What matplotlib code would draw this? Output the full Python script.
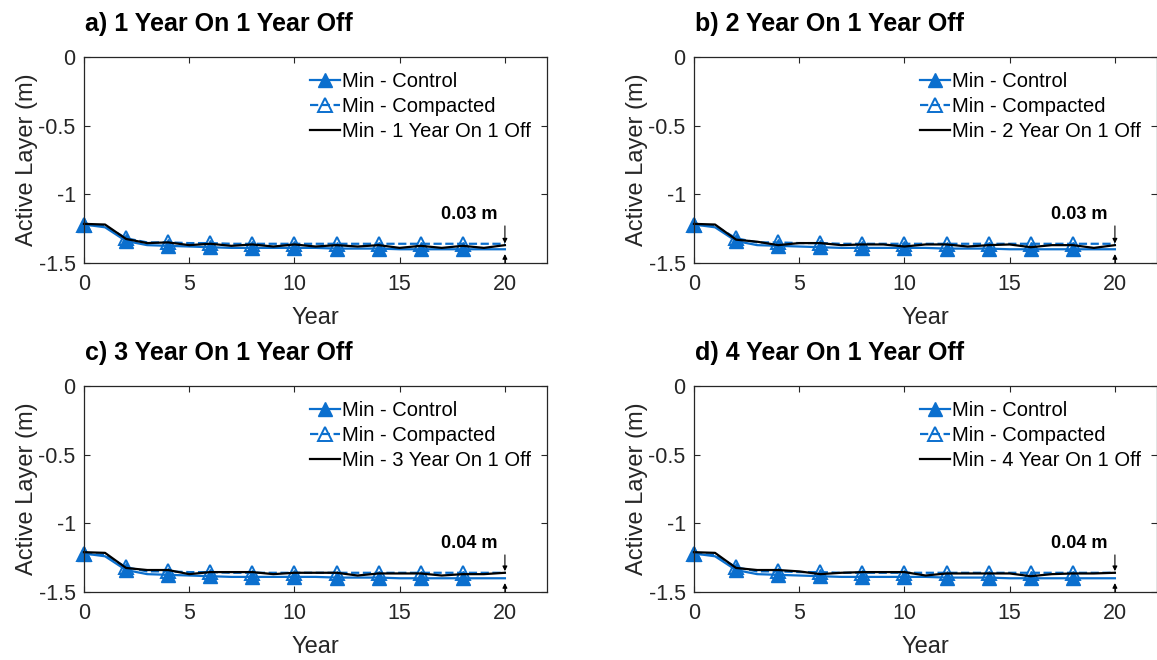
import numpy as np
import matplotlib
matplotlib.use("Agg")
import matplotlib.pyplot as plt

plt.rcParams['font.family'] = ['Liberation Sans', 'DejaVu Sans']
plt.rcParams['axes.unicode_minus'] = False

years = list(range(21))

# Minimum active layer depth (m) for the reference scenarios
control = [-1.22, -1.24, -1.34, -1.37, -1.375, -1.38, -1.385, -1.39, -1.39, -1.39, -1.39,
           -1.39, -1.395, -1.395, -1.395, -1.40, -1.40, -1.40, -1.40, -1.40, -1.40]
compacted = [-1.22, -1.23, -1.32, -1.35, -1.35, -1.355, -1.355, -1.36, -1.36, -1.36, -1.36,
             -1.36, -1.36, -1.36, -1.36, -1.36, -1.36, -1.36, -1.36, -1.36, -1.36]

# Rotation scenarios (years on / year off)
rot_1on1off = [-1.215, -1.22, -1.325, -1.355, -1.35, -1.37, -1.36, -1.375, -1.365, -1.38, -1.365,
               -1.38, -1.37, -1.38, -1.37, -1.39, -1.375, -1.39, -1.375, -1.39, -1.37]
rot_2on1off = [-1.215, -1.22, -1.33, -1.345, -1.37, -1.355, -1.355, -1.37, -1.365, -1.365, -1.38,
               -1.365, -1.365, -1.38, -1.37, -1.365, -1.385, -1.37, -1.37, -1.39, -1.37]
rot_3on1off = [-1.21, -1.215, -1.325, -1.34, -1.34, -1.37, -1.355, -1.355, -1.355, -1.37, -1.36,
               -1.36, -1.36, -1.38, -1.365, -1.365, -1.365, -1.38, -1.37, -1.37, -1.36]
rot_4on1off = [-1.21, -1.215, -1.325, -1.34, -1.34, -1.35, -1.37, -1.36, -1.355, -1.355, -1.355,
               -1.38, -1.365, -1.365, -1.365, -1.365, -1.385, -1.37, -1.365, -1.365, -1.36]

titles = ["a) 1 Year On 1 Year Off", "b) 2 Year On 1 Year Off",
          "c) 3 Year On 1 Year Off", "d) 4 Year On 1 Year Off"]
rot_labels = ["Min - 1 Year On 1 Off", "Min - 2 Year On 1 Off",
              "Min - 3 Year On 1 Off", "Min - 4 Year On 1 Off"]
rotations = [rot_1on1off, rot_2on1off, rot_3on1off, rot_4on1off]

xticks = [0, 5, 10, 15, 20]
yticks = [0, -0.5, -1, -1.5]
ytick_labels = ["0", "-0.5", "-1", "-1.5"]

blue = '#0b6fce'
dark = '#262626'

W, H = 1157, 660
fig = plt.figure(figsize=(W / 100, H / 100), dpi=100)

# panel boxes in pixels: left, top, right, bottom
boxes = [(84, 57, 547, 263), (694, 57, 1157, 263),
         (84, 386, 547, 592), (694, 386, 1157, 592)]

marker_idx = list(range(0, 19, 2))

for ax_i, (l, t, r, b) in enumerate(boxes):
    ax = fig.add_axes([l / W, 1 - b / H, (r - l) / W, (b - t) / H])
    rot = rotations[ax_i]

    ax.plot(years, control, '-', color=blue, lw=1.6, marker='^', markevery=marker_idx,
            ms=10, mfc=blue, mec=blue, label="Min - Control", clip_on=False)
    ax.plot(years, compacted, '--', color=blue, lw=1.6, marker='^', markevery=marker_idx,
            ms=10, mfc='none', mec=blue, mew=1.4, label="Min - Compacted", clip_on=False)
    ax.plot(years, rot, '-', color='black', lw=1.6, label=rot_labels[ax_i], clip_on=False)

    ax.set_xlim(0, 22)
    ax.set_ylim(-1.5, 0)
    ax.set_xticks(xticks)
    ax.set_yticks(yticks)
    ax.set_yticklabels(ytick_labels)
    ax.tick_params(direction='in', length=4, width=0.8, top=True, right=True,
                   labelsize=15.5, colors=dark)
    ax.tick_params(axis='x', pad=8)
    ax.tick_params(axis='y', pad=6)
    for s in ax.spines.values():
        s.set_color(dark)
        s.set_linewidth(0.9)

    ax.set_xlabel("Year", fontsize=17, color=dark)
    ax.xaxis.set_label_coords(0.5, -0.215)
    ax.set_ylabel("Active Layer (m)", fontsize=17, color=dark)
    ax.yaxis.set_label_coords(-0.1, 0.5)

    ax.text(0.002, 1.16, titles[ax_i], transform=ax.transAxes, fontsize=18,
            fontweight='bold', va='center', ha='left')

    leg = ax.legend(loc='upper left', bbox_to_anchor=(0.47, 0.965), frameon=False,
                    fontsize=14.5, handlelength=1.5, handletextpad=0.1,
                    labelspacing=0.3, borderaxespad=0, numpoints=1)
    for txt in leg.get_texts():
        txt.set_color('black')

    # gap between the rotation and control minimum at the final year
    gap = abs(control[-1] - rot[-1])
    xe = years[-1]
    ax.annotate('', xy=(xe, rot[-1] + 0.012), xytext=(xe, -1.23),
                arrowprops=dict(arrowstyle='-|>', lw=0.8, color='black',
                                mutation_scale=7, shrinkA=0, shrinkB=0),
                annotation_clip=False)
    ax.annotate('', xy=(xe, control[-1] - 0.035), xytext=(xe, -1.5),
                arrowprops=dict(arrowstyle='-|>', lw=0.8, color='black',
                                mutation_scale=7, shrinkA=0, shrinkB=0),
                annotation_clip=False)
    ax.text(xe - 0.35, -1.145, f"{gap:.2f} m", fontsize=13, fontweight='bold',
            ha='right', va='center')

fig.savefig("out.png", dpi=100)
